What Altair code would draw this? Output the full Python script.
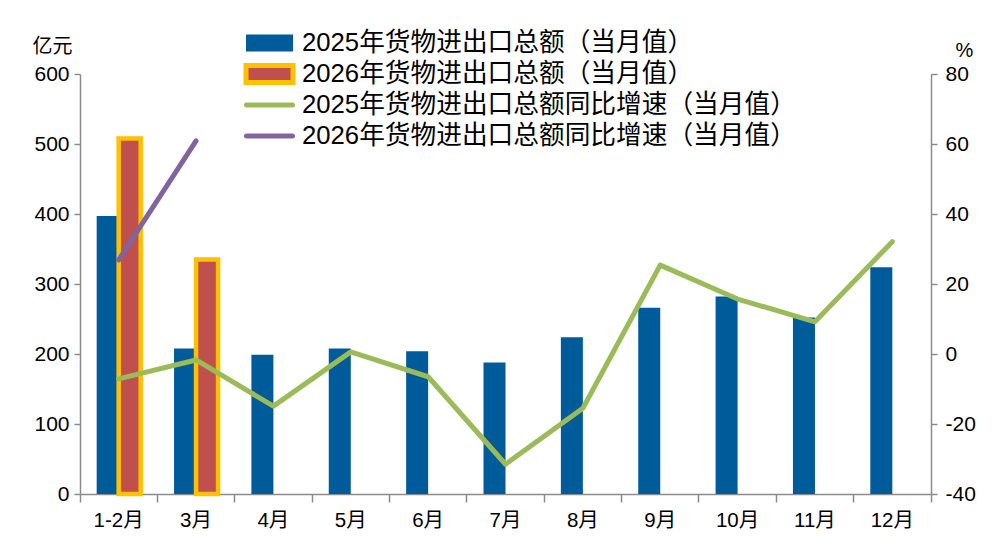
import altair as alt
import pandas as pd

months = ["1-2月", "3月", "4月", "5月", "6月", "7月", "8月", "9月", "10月", "11月", "12月"]
trade_2025 = [397, 208, 199, 208, 204, 188, 224, 266, 282, 252, 324]
trade_2026 = [508, 335]
growth_2025 = [-7.1, -1.7, -14.9, 0.6, -6.5, -31.5, -15.5, 25.4, 15.7, 9.2, 32.1]
growth_2026 = [26.9, 60.9]
series = ["2025", "2026"]
legend_labels = [
    "2025年货物进出口总额（当月值）",
    "2026年货物进出口总额（当月值）",
    "2025年货物进出口总额同比增速（当月值）",
    "2026年货物进出口总额同比增速（当月值）",
]

BLUE = "#005b9a"
RED = "#c0504d"
ORANGE = "#ffc000"
GREEN = "#9bbb59"
PURPLE = "#8064a2"
GREY = "#8c8c8c"
FONT = "Liberation Sans, Noto Sans CJK SC"

bars = pd.DataFrame({
    "month": months + months[: len(trade_2026)],
    "series": ["2025"] * len(trade_2025) + ["2026"] * len(trade_2026),
    "value": trade_2025 + trade_2026,
})
rates = pd.DataFrame({
    "month": months + months[: len(growth_2026)],
    "series": ["2025"] * len(growth_2025) + ["2026"] * len(growth_2026),
    "rate": growth_2025 + growth_2026,
})
leg = pd.DataFrame({
    "label": legend_labels,
    "row": [0, 1, 2, 3],
    "fill": [BLUE, RED, GREEN, PURPLE],
    "edge": [BLUE, ORANGE, GREEN, PURPLE],
    "sw": [0, 5, 0, 0],
})

x_enc = alt.X(
    "month:N",
    sort=months,
    scale=alt.Scale(domain=months, paddingInner=0, paddingOuter=0),
    axis=alt.Axis(
        title=None, labelAngle=0, bandPosition=1, tickExtra=True,
        labelFontSize=20.5, labelFont=FONT, labelColor="#000",
        tickSize=8, labelPadding=8, domainColor=GREY, tickColor=GREY,
        domainWidth=1.5, tickWidth=1.5,
    ),
)

bar = alt.Chart(bars).mark_bar().encode(
    x=x_enc,
    xOffset=alt.XOffset(
        "series:N",
        scale=alt.Scale(domain=series, paddingInner=0, paddingOuter=0.758),
    ),
    y=alt.Y(
        "value:Q",
        scale=alt.Scale(domain=[0, 600], nice=False),
        axis=alt.Axis(
            values=[0, 100, 200, 300, 400, 500, 600], grid=False,
            title="亿元", titleAngle=0, titleX=-28, titleY=-28,
            titleAlign="center", titleBaseline="middle",
            titleFontSize=20, titleFontWeight="normal", titleFont=FONT,
            labelFontSize=21, labelFont=FONT, labelColor="#000",
            tickSize=6, labelPadding=5, domainColor=GREY, tickColor=GREY,
            domainWidth=1.5, tickWidth=1.5,
        ),
    ),
    fill=alt.Fill("series:N", scale=alt.Scale(domain=series, range=[BLUE, RED]), legend=None),
    stroke=alt.condition("datum.series == '2026'", alt.value(ORANGE), alt.value(BLUE)),
    strokeWidth=alt.condition("datum.series == '2026'", alt.value(4.5), alt.value(0)),
)

line = alt.Chart(rates).mark_line(strokeWidth=5, strokeCap="round", strokeJoin="round").encode(
    x=x_enc,
    y=alt.Y(
        "rate:Q",
        scale=alt.Scale(domain=[-40, 80], nice=False),
        axis=alt.Axis(
            orient="right", values=[-40, -20, 0, 20, 40, 60, 80], grid=False,
            labelExpr="'' + datum.value",
            title="%", titleAngle=0, titleX=33, titleY=-24,
            titleAlign="center", titleBaseline="middle",
            titleFontSize=20, titleFontWeight="normal", titleFont=FONT,
            labelFontSize=21, labelFont=FONT, labelColor="#000",
            tickSize=6, labelPadding=8, domainColor=GREY, tickColor=GREY,
            domainWidth=1.5, tickWidth=1.5,
        ),
    ),
    color=alt.Color("series:N", scale=alt.Scale(domain=series, range=[GREEN, PURPLE]), legend=None),
)

leg_base = alt.Chart(leg).transform_calculate(
    ly="-31 + 31 * datum.row", yt="-39.5 + 31 * datum.row", yb="-22.5 + 31 * datum.row"
)

leg_rect = leg_base.transform_filter("datum.row < 2").mark_rect().encode(
    x=alt.value(166),
    x2=alt.value(213),
    y=alt.Y("yt:Q", scale=None, axis=None),
    y2="yb:Q",
    fill=alt.Fill("fill:N", scale=None),
    stroke=alt.Stroke("edge:N", scale=None),
    strokeWidth=alt.StrokeWidth("sw:Q", scale=None),
)

leg_line = leg_base.transform_filter("datum.row >= 2").mark_rule(strokeWidth=5, strokeCap="round").encode(
    x=alt.value(166.5),
    x2=alt.value(212.5),
    y=alt.Y("ly:Q", scale=None, axis=None),
    color=alt.Color("fill:N", scale=None),
)

leg_text = leg_base.mark_text(align="left", baseline="middle", fontSize=25.7, font=FONT, color="#000").encode(
    x=alt.value(222),
    y=alt.Y("ly:Q", scale=None, axis=None),
    text="label:N",
)

chart = alt.layer(bar, line, leg_rect, leg_line, leg_text).resolve_scale(
    y="independent"
).properties(
    width=851,
    height=420,
    padding={"left": 72, "top": 66, "right": 50, "bottom": 40},
    autosize=alt.AutoSizeParams(type="none"),
    background="white",
).configure_view(stroke=None)

chart.save("out.html", embed_options={"renderer": "svg", "actions": False})
